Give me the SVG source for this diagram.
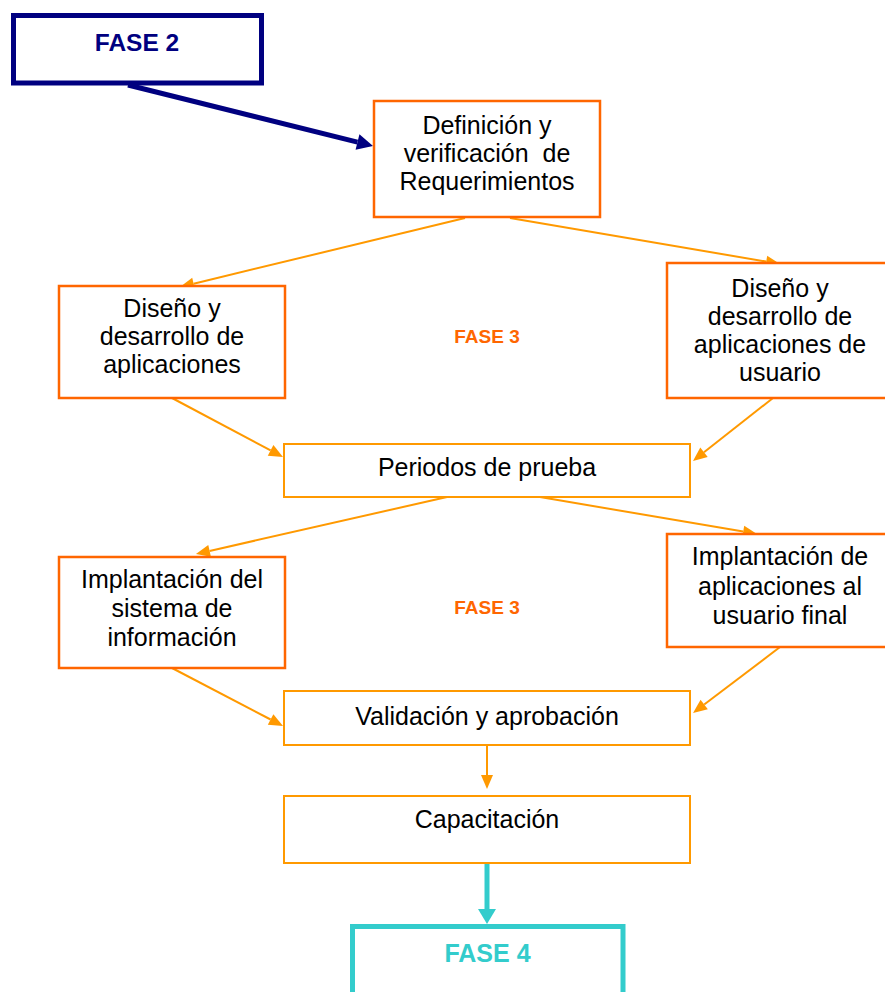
<svg xmlns="http://www.w3.org/2000/svg" width="885" height="992" viewBox="0 0 885 992">
<style>
.t{font-family:"Liberation Sans",Arial,sans-serif;font-size:25px;fill:#000;text-anchor:middle;white-space:pre}
.b1{fill:#fff;stroke:#FF6600;stroke-width:2.5}
.b2{fill:#fff;stroke:#FF9900;stroke-width:2}
.c{fill:none;stroke:#FF9900;stroke-width:2}
.lbl{font-family:"Liberation Sans",Arial,sans-serif;font-weight:bold;text-anchor:middle}
</style>
<defs>
<marker id="ah" markerUnits="userSpaceOnUse" markerWidth="14" markerHeight="12" refX="0" refY="6" orient="auto" overflow="visible"><path d="M0,0 L14,6 L0,12 z" fill="#FF9900"/></marker>
<marker id="ahn" markerUnits="userSpaceOnUse" markerWidth="16" markerHeight="16" refX="0" refY="8" orient="auto" overflow="visible"><path d="M0,0 L16,8 L0,16 z" fill="#000080"/></marker>
<marker id="aht" markerUnits="userSpaceOnUse" markerWidth="15" markerHeight="18" refX="0" refY="9" orient="auto" overflow="visible"><path d="M0,0 L15,9 L0,18 z" fill="#33CCCC"/></marker>
</defs>
<rect width="885" height="992" fill="#fff"/>
<g id="connectors">
<path d="M128,85 L357.5,142.1" fill="none" stroke="#000080" stroke-width="5" marker-end="url(#ahn)"/>
<path class="c" d="M465,218 L193.6,283.7" marker-end="url(#ah)"/>
<path class="c" d="M510,218 L766.2,261.6" marker-end="url(#ah)"/>
<path class="c" d="M172,398 L270.6,450.4" marker-end="url(#ah)"/>
<path class="c" d="M773,398 L704,452.3" marker-end="url(#ah)"/>
<path class="c" d="M447,497 L209.6,550.9" marker-end="url(#ah)"/>
<path class="c" d="M540,497 L743.2,531.6" marker-end="url(#ah)"/>
<path class="c" d="M172,668 L270.6,719.5" marker-end="url(#ah)"/>
<path class="c" d="M780,647 L704.2,704.5" marker-end="url(#ah)"/>
<path class="c" d="M487,745 L487,775" marker-end="url(#ah)"/>
<path d="M487,864 L487,909" fill="none" stroke="#33CCCC" stroke-width="5" marker-end="url(#aht)"/>
</g>
<g id="fase2">
<rect x="13.5" y="15.5" width="248" height="67.5" fill="#fff" stroke="#000080" stroke-width="5"/>
<text class="lbl" x="137" y="51" font-size="24.5" fill="#000080">FASE 2</text>
</g>
<g id="definicion">
<rect class="b1" x="374" y="101" width="226" height="116"/>
<text class="t" x="487" y="134">Definición y</text>
<text class="t" x="487" y="162">verificación  de</text>
<text class="t" x="487" y="190">Requerimientos</text>
</g>
<g id="diseno-aplicaciones">
<rect class="b1" x="59" y="286" width="226" height="112"/>
<text class="t" x="172" y="317">Diseño y</text>
<text class="t" x="172" y="345">desarrollo de</text>
<text class="t" x="172" y="373">aplicaciones</text>
</g>
<g id="diseno-usuario">
<rect class="b1" x="667" y="263" width="226" height="135"/>
<text class="t" x="780" y="297">Diseño y</text>
<text class="t" x="780" y="325">desarrollo de</text>
<text class="t" x="780" y="353">aplicaciones de</text>
<text class="t" x="780" y="381">usuario</text>
</g>
<g id="fase3a">
<text class="lbl" x="487" y="343" font-size="19" fill="#FF6600">FASE 3</text>
</g>
<g id="periodos">
<rect class="b2" x="284" y="444" width="406" height="53"/>
<text class="t" x="487" y="476">Periodos de prueba</text>
</g>
<g id="implantacion-sistema">
<rect class="b1" x="59" y="557" width="226" height="111"/>
<text class="t" x="172" y="588">Implantación del</text>
<text class="t" x="172" y="617">sistema de</text>
<text class="t" x="172" y="646">información</text>
</g>
<g id="implantacion-usuario">
<rect class="b1" x="667" y="534" width="226" height="113"/>
<text class="t" x="780" y="565">Implantación de</text>
<text class="t" x="780" y="595">aplicaciones al</text>
<text class="t" x="780" y="624">usuario final</text>
</g>
<g id="fase3b">
<text class="lbl" x="487" y="614" font-size="19" fill="#FF6600">FASE 3</text>
</g>
<g id="validacion">
<rect class="b2" x="284" y="691" width="406" height="54"/>
<text class="t" x="487" y="725">Validación y aprobación</text>
</g>
<g id="capacitacion">
<rect class="b2" x="284" y="796" width="406" height="67"/>
<text class="t" x="487" y="828">Capacitación</text>
</g>
<g id="fase4">
<rect x="352.5" y="926.5" width="270.5" height="80" fill="#fff" stroke="#33CCCC" stroke-width="5"/>
<text class="lbl" x="487.5" y="962" font-size="25" fill="#33CCCC">FASE 4</text>
</g>
</svg>
